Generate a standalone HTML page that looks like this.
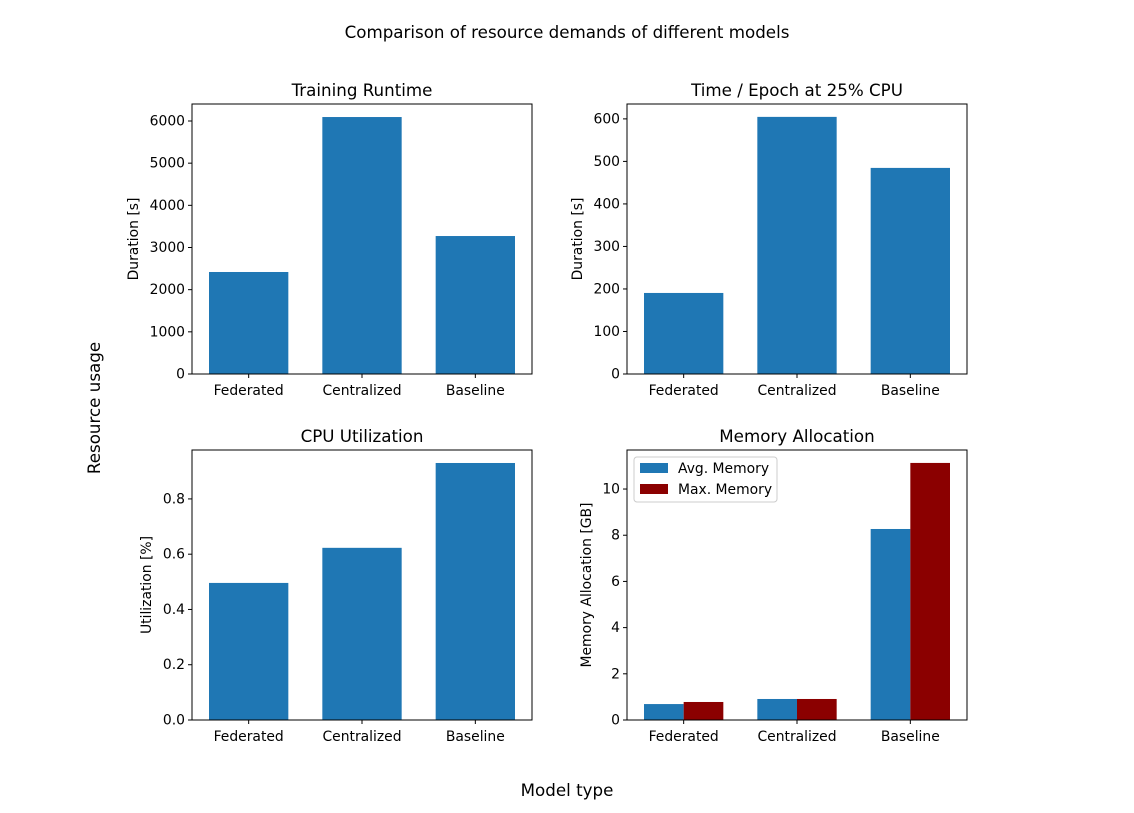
<!DOCTYPE html>
<html><head><meta charset="utf-8"><style>
body{margin:0;background:#fff;}
svg text{font-family:"DejaVu Sans","Liberation Sans",sans-serif;fill:#000;}
</style></head><body>
<svg id="fig" width="1134" height="808" xmlns="http://www.w3.org/2000/svg">
<rect width="1134" height="808" fill="#fff"/>
<text x="567" y="38" font-size="16.7" text-anchor="middle">Comparison of resource demands of different models</text>
<text x="567" y="796" font-size="16.7" text-anchor="middle">Model type</text>
<text x="0" y="0" font-size="16.7" text-anchor="middle" transform="translate(100,408) rotate(-90)">Resource usage</text>
</svg>
<script>
const categories=["Federated","Centralized","Baseline"];
const runtimeValues=[2419,6094,3272];
const epochValues=[190.6,604.7,484.7];
const cpuValues=[0.496,0.623,0.930];
const avgMemory=[0.69,0.91,8.27];
const maxMemory=[0.78,0.91,11.13];
const runtimeTicks=[0,1000,2000,3000,4000,5000,6000];
const epochTicks=[0,100,200,300,400,500,600];
const cpuTicks=[0,0.2,0.4,0.6,0.8];
const memTicks=[0,2,4,6,8,10];

const svg=document.getElementById('fig');
const NS="http://www.w3.org/2000/svg";
function mk(tag,attrs,parent){const e=document.createElementNS(NS,tag);for(const k in attrs)e.setAttribute(k,attrs[k]);(parent||svg).appendChild(e);return e;}

function panel(p){
  const g=mk('g',{});
  
  
  const L=p.x,T=p.y,W=340,H=270;
  const sx=v=>L+(v+0.5)/3*W;
  const sy=v=>T+H-v/p.ymax*H;
  p.series.forEach((s,si)=>{
    s.values.forEach((v,i)=>{
      const cx=sx(i)+s.offset*W/3;
      const r=mk('rect',{x:cx-s.width*W/3/2,y:sy(v),width:s.width*W/3,height:sy(0)-sy(v),fill:s.color},g);
      
      
    });
  });
  mk('rect',{x:L,y:T,width:W,height:H,fill:'none',stroke:'#000','stroke-width':1},g);
  p.ticks.forEach(t=>{
    const y=sy(t);
    mk('line',{x1:L-4,x2:L,y1:y,y2:y,stroke:'#000'},g);
    const tx=mk('text',{x:L-7,y:y+4.5,'font-size':13.9,'text-anchor':'end'},g);
    tx.textContent=p.fmt(t);
    
    
  });
  categories.forEach((c,i)=>{
    const x=sx(i);
    mk('line',{x1:x,x2:x,y1:T+H,y2:T+H+4,stroke:'#000'},g);
    const tx=mk('text',{x:x,y:T+H+21,'font-size':13.9,'text-anchor':'middle'},g);
    tx.textContent=c;
    
    
  });
  const ti=mk('text',{x:L+W/2,y:T-8,'font-size':16.7,'text-anchor':'middle'},g);
  ti.textContent=p.title;
  
  
  const yl=mk('text',{x:0,y:0,'font-size':13.9,'text-anchor':'middle',transform:`translate(${p.ylx},${T+H/2}) rotate(-90)`},g);
  yl.textContent=p.ylabel;
  
  
  return g;
}
const blue='#1f77b4',red='#8b0000';
panel({name:'training-runtime-panel',x:192,y:104,ymax:6403,ticks:runtimeTicks,fmt:t=>String(t),title:'Training Runtime',ylabel:'Duration [s]',ylx:138,
  series:[{key:'runtime',values:runtimeValues,color:blue,width:0.7,offset:0}]});
panel({name:'epoch-time-panel',x:627,y:104,ymax:635,ticks:epochTicks,fmt:t=>String(t),title:'Time / Epoch at 25% CPU',ylabel:'Duration [s]',ylx:582,
  series:[{key:'epoch',values:epochValues,color:blue,width:0.7,offset:0}]});
panel({name:'cpu-utilization-panel',x:192,y:450,ymax:0.977,ticks:cpuTicks,fmt:t=>t.toFixed(1),title:'CPU Utilization',ylabel:'Utilization [%]',ylx:151,
  series:[{key:'cpu',values:cpuValues,color:blue,width:0.7,offset:0}]});
const mp=panel({name:'memory-allocation-panel',x:627,y:450,ymax:11.69,ticks:memTicks,fmt:t=>String(t),title:'Memory Allocation',ylabel:'Memory Allocation [GB]',ylx:591,
  series:[{key:'avg-memory',values:avgMemory,color:blue,width:0.35,offset:-0.175},{key:'max-memory',values:maxMemory,color:red,width:0.35,offset:0.175}]});
const lg=mk('g',{});


mk('rect',{x:634,y:457,width:143,height:45,rx:3,fill:'#fff',stroke:'#ccc'},lg);
[['Avg. Memory',blue,468],['Max. Memory',red,489]].forEach(([l,c,y])=>{
  mk('rect',{x:640,y:y-5,width:28,height:10,fill:c},lg);
  const t=mk('text',{x:678,y:y+5,'font-size':13.9},lg);
  t.textContent=l;
  
  
});
</script>
</body></html>
